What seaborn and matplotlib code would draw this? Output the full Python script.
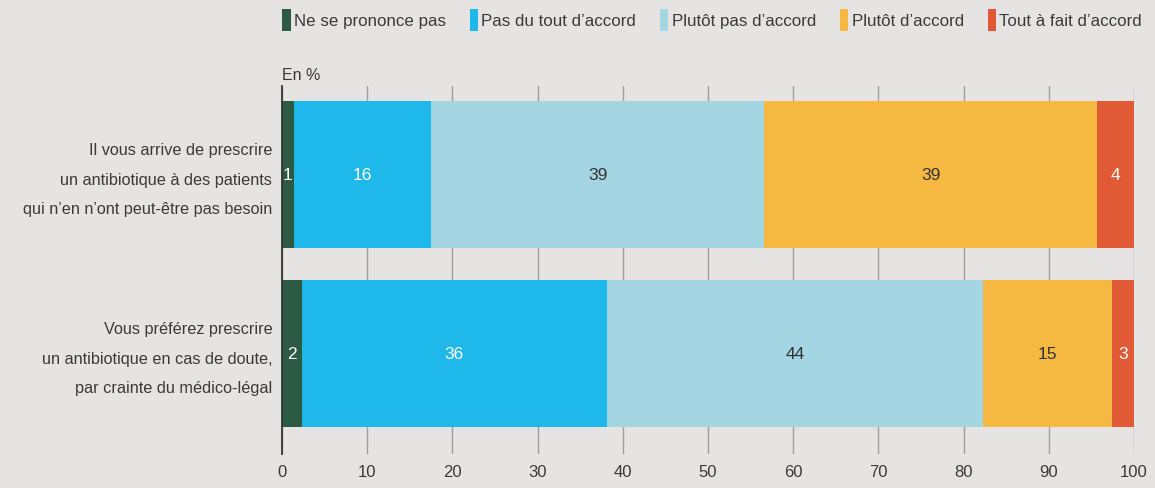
import matplotlib
matplotlib.use("Agg")
import matplotlib.pyplot as plt
import matplotlib.transforms as mtransforms
import seaborn as sns
import pandas as pd
import numpy as np
from matplotlib.patches import Patch

# ---- data ----
categories = [
    "Il vous arrive de prescrire\nun antibiotique à des patients\nqui n\u2019en n\u2019ont peut-être pas besoin",
    "Vous préférez prescrire\nun antibiotique en cas de doute,\npar crainte du médico-légal",
]
series_names = ["Ne se prononce pas", "Pas du tout d\u2019accord", "Plutôt pas d\u2019accord",
                "Plutôt d\u2019accord", "Tout à fait d\u2019accord"]
ne_se_prononce = [1.4, 2.3]
pas_du_tout = [16.1, 35.8]
plutot_pas = [39.1, 44.2]
plutot = [39.1, 15.1]
tout_a_fait = [4.3, 2.6]
labels_row1 = [1, 16, 39, 39, 4]
labels_row2 = [2, 36, 44, 15, 3]
colors = ["#2c5a42", "#1fb8ea", "#a3d5e2", "#f5b942", "#e05a35"]
label_colors = ["white", "white", "#333333", "#333333", "white"]
xticks = [0, 10, 20, 30, 40, 50, 60, 70, 80, 90, 100]

sns.set_theme(style="white")
BG = "#e5e4e2"
TXT = "#3a3a3a"
plt.rcParams["font.family"] = ["Liberation Sans", "DejaVu Sans"]
plt.rcParams["text.color"] = TXT

fig = plt.figure(figsize=(11.55, 4.89), dpi=100, facecolor=BG)
ax = fig.add_axes([282 / 1155, 1 - 455 / 489, (1134 - 282) / 1155, (455 - 87) / 489])
ax.set_facecolor(BG)

vals = np.array([ne_se_prononce, pas_du_tout, plutot_pas, plutot, tout_a_fait])
cum = np.cumsum(vals, axis=0)

for i in range(len(series_names) - 1, -1, -1):
    df = pd.DataFrame({"cat": categories, "val": cum[i]})
    sns.barplot(data=df, x="val", y="cat", order=categories, orient="h",
                color=colors[i], saturation=1, width=0.82, linewidth=0, ax=ax)

all_labels = [labels_row1, labels_row2]
for r in range(len(categories)):
    for i in range(len(series_names)):
        xc = cum[i, r] - vals[i, r] / 2
        ax.text(xc, r, str(all_labels[r][i]), ha="center", va="center",
                fontsize=12.5, color=label_colors[i])

ax.set_xlim(0, 100)
ax.set_ylim(1.561, -0.494)
ax.set_xticks(xticks)
ax.set_xticklabels([str(t) for t in xticks], fontsize=12, color=TXT)
ax.tick_params(axis="x", length=0, pad=7)
ax.tick_params(axis="y", length=0, pad=7)
ax.set_yticks(range(len(categories)))
ax.set_yticklabels(categories, fontsize=11.7, color=TXT, linespacing=2.2, ha="right")
shift = mtransforms.ScaledTranslation(0, 4 / 100, fig.dpi_scale_trans)
for lab in ax.get_yticklabels():
    lab.set_transform(lab.get_transform() + shift)
ax.set_xlabel("")
ax.set_ylabel("")
ax.grid(axis="x", color="#9d9d9d", lw=1)
ax.grid(axis="y", visible=False)
ax.set_axisbelow(True)
for s in ["top", "right", "bottom"]:
    ax.spines[s].set_visible(False)
ax.spines["left"].set_color("#333333")
ax.spines["left"].set_linewidth(1.3)
ax.spines["left"].set_zorder(5)

handles = [Patch(facecolor=c, edgecolor="none") for c in colors]
fig.legend(handles, series_names, loc="upper right", bbox_to_anchor=(1142 / 1155, 1 - 10 / 489),
           ncol=5, frameon=False, fontsize=12.2, handlelength=0.5, handleheight=1.6,
           handletextpad=0.2, columnspacing=1.4, borderpad=0, borderaxespad=0,
           labelcolor=TXT)

fig.text(282 / 1155, 1 - 76 / 489, "En %", fontsize=11.5, color=TXT, va="center", ha="left")

fig.savefig("out.png", dpi=100, facecolor=BG)
